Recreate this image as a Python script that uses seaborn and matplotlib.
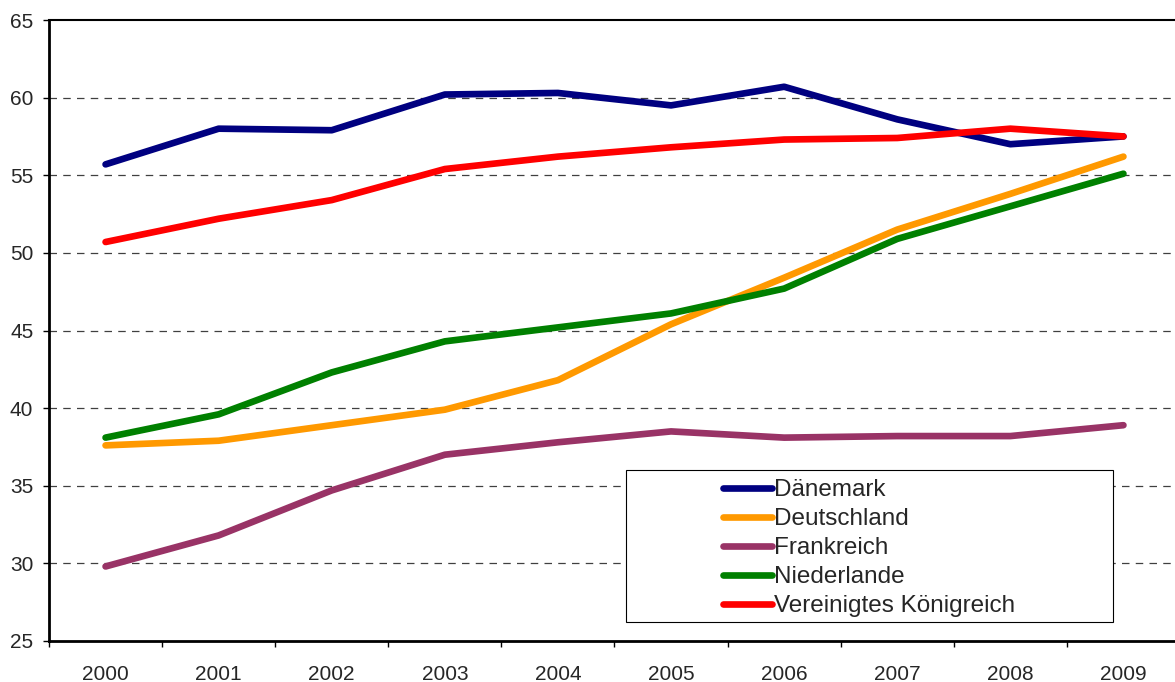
import matplotlib
matplotlib.use("Agg")
import matplotlib.pyplot as plt
from matplotlib.patches import Rectangle
import seaborn as sns
import pandas as pd
import numpy as np

years = ["2000", "2001", "2002", "2003", "2004", "2005", "2006", "2007", "2008", "2009"]
daenemark = [55.7, 58.0, 57.9, 60.2, 60.3, 59.5, 60.7, 58.6, 57.0, 57.5]
deutschland = [37.6, 37.9, 38.9, 39.9, 41.8, 45.4, 48.4, 51.5, 53.8, 56.2]
frankreich = [29.8, 31.8, 34.7, 37.0, 37.8, 38.5, 38.1, 38.2, 38.2, 38.9]
niederlande = [38.1, 39.6, 42.3, 44.3, 45.2, 46.1, 47.7, 50.9, 53.0, 55.1]
vk = [50.7, 52.2, 53.4, 55.4, 56.2, 56.8, 57.3, 57.4, 58.0, 57.5]

series = {
    "Dänemark": daenemark,
    "Deutschland": deutschland,
    "Frankreich": frankreich,
    "Niederlande": niederlande,
    "Vereinigtes Königreich": vk,
}
colors = ["#000080", "#FF9900", "#993366", "#008000", "#FF0000"]

rows = []
for name, vals in series.items():
    for i, v in enumerate(vals):
        rows.append({"Land": name, "x": i, "Wert": v})
df = pd.DataFrame(rows)

sns.set_theme(style="white")
plt.rcParams["font.family"] = ["Liberation Sans", "DejaVu Sans"]

fig = plt.figure(figsize=(11.75, 6.82), dpi=100)
ax = fig.add_axes([49 / 1175, 41 / 682, (1180 - 49) / 1175, 621 / 682])

sns.lineplot(data=df, x="x", y="Wert", hue="Land", palette=colors, linewidth=4.8,
             ax=ax, legend=True, solid_capstyle="round")

ax.set_xlim(-0.5, 9.5)
ax.set_ylim(25, 65)
ax.set_yticks(np.arange(25, 66, 5))
ax.set_yticklabels([str(v) for v in range(25, 66, 5)], fontsize=15)
ax.set_xticks(range(len(years)))
ax.set_xticklabels(years, fontsize=15)
ax.set_xticks(np.arange(-0.5, 10, 1), minor=True)
ax.tick_params(axis="x", which="major", length=0, pad=17)
ax.tick_params(axis="x", which="minor", length=4.3, width=1, color="black", direction="out", bottom=True)
ax.tick_params(axis="y", which="major", length=4.3, width=1, color="black", direction="out", left=True, pad=7)
ax.set_xlabel("")
ax.set_ylabel("")

for y in range(30, 65, 5):
    ax.axhline(y, color="#404040", linestyle=(0, (6, 5)), linewidth=0.9, zorder=0)

for side in ["left", "bottom"]:
    ax.spines[side].set_color("black")
    ax.spines[side].set_linewidth(2)
ax.spines["top"].set_color("black")
ax.spines["top"].set_linewidth(1.5)
ax.spines["right"].set_visible(False)

# legend box
rect = Rectangle((626 / 1175, (682 - 622) / 682), (1113 - 626) / 1175, 152 / 682,
                 transform=fig.transFigure, facecolor="white", edgecolor="black",
                 linewidth=0.8, zorder=5)
ax.add_patch(rect)
handles, labels = ax.get_legend_handles_labels()
leg = ax.legend(handles, labels, loc="upper left",
                bbox_to_anchor=(711 / 1175, (682 - 467) / 682),
                bbox_transform=fig.transFigure, frameon=False,
                fontsize=17.5, handlelength=2.0, handletextpad=0.1,
                labelspacing=0.29, borderpad=0)
leg.set_zorder(6)

fig.savefig("out.png", dpi=100)
